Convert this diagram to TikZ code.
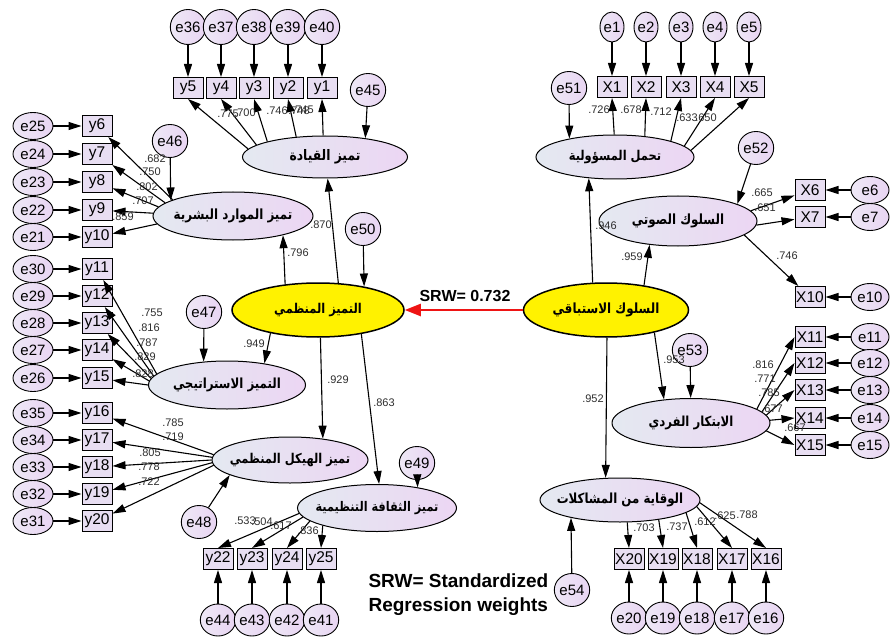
\documentclass[tikz,border=0pt]{standalone}
\usepackage{fontspec}
\setmainfont{Liberation Sans}
\newfontfamily\arfont[Script=Arabic, FakeStretch=0.85]{DejaVu Sans}
\TeXXeTstate=1
\usetikzlibrary{arrows.meta,shapes.geometric}
\definecolor{latleft}{RGB}{228,233,241}
\definecolor{latright}{RGB}{236,214,243}
\definecolor{errleft}{RGB}{238,232,246}
\definecolor{errright}{RGB}{232,212,242}
\definecolor{boxfill}{RGB}{232,222,242}
\definecolor{coefgray}{RGB}{45,45,45}
\definecolor{srwred}{RGB}{238,20,20}

\begin{document}
\begin{tikzpicture}[x=1pt, y=-1pt, >={Triangle[length=13pt,width=8pt]},
    arsize/.style={font=\arfont\bfseries\fontsize{#1}{#1}\selectfont},
    lat/.style={ellipse, draw, line width=1pt, left color=latleft, right color=latright,
        inner sep=0pt, inner xsep=-50pt},
    keylat/.style={ellipse, draw, line width=1.5pt, fill=yellow, minimum width=172pt, minimum height=54pt,
        inner sep=0pt, inner xsep=-50pt},
    err/.style={ellipse, draw, line width=0.9pt, left color=errleft, right color=errright,
        inner sep=0pt, font=\fontsize{15}{16}\selectfont},
    errv/.style={err, minimum width=28pt, minimum height=35pt},
    errs/.style={err, minimum width=24pt, minimum height=30pt},
    errh/.style={err, minimum width=40pt, minimum height=27pt},
    errc/.style={err, minimum width=32pt, minimum height=33pt},
    obs/.style={rectangle, draw, line width=1pt, fill=boxfill, minimum width=30pt, minimum height=21pt,
        inner sep=0pt, font=\fontsize{15.5}{16}\selectfont},
    coef/.style={inner sep=0pt, text=coefgray, font=\fontsize{11}{12}\selectfont},
    path/.style={->, line width=1.1pt}]

    \useasboundingbox (0,0) rectangle (891,639);

    % Latent variables, left model
    \node[keylat, arsize=13.5] (orgx) at (318,310) {\beginR التميز المنظمي\endR};
    \node[lat, arsize=14.5, minimum width=165pt, minimum height=42pt] (lead) at (325,157) {\beginR تميز القيادة\endR};
    \node[lat, arsize=14, minimum width=160pt, minimum height=48pt] (hr) at (233,216) {\beginR تميز الموارد البشرية\endR};
    \node[lat, arsize=13.9, minimum width=157pt, minimum height=48pt] (strat) at (227,385) {\beginR التميز الاستراتيجي\endR};
    \node[lat, arsize=13.5, minimum width=156pt, minimum height=46pt] (struct) at (290,460) {\beginR تميز الهيكل المنظمي\endR};
    \node[lat, arsize=13.3, minimum width=159pt, minimum height=47pt] (cult) at (377,508) {\beginR تميز الثقافة التنظيمية\endR};

    % Latent variables, right model
    \node[keylat, arsize=14, minimum width=165pt] (proact) at (606,310) {\beginR السلوك الاستباقي\endR};
    \node[lat, arsize=13.5, minimum width=158pt, minimum height=44pt] (resp) at (615,157) {\beginR تحمل المسؤولية\endR};
    \node[lat, arsize=14, minimum width=158pt, minimum height=50pt] (voice) at (678,221) {\beginR السلوك الصوتي\endR};
    \node[lat, arsize=13.8, minimum width=158pt, minimum height=49pt] (innov) at (691,423) {\beginR الابتكار الفردي\endR};
    \node[lat, arsize=13.9, minimum width=160pt, minimum height=44pt] (prev) at (620,500) {\beginR الوقاية من المشاكلات\endR};

    % Disturbances
    \node[errc] (e45) at (368,90) {e45};
    \node[errc] (e46) at (170,141) {e46};
    \node[errc] (e47) at (204,312) {e47};
    \node[errc] (e48) at (199,522) {e48};
    \node[errc] (e49) at (417,463) {e49};
    \node[errc] (e50) at (363,229) {e50};
    \node[errc] (e51) at (569,88) {e51};
    \node[errc] (e52) at (756,148) {e52};
    \node[errc] (e53) at (690,350) {e53};
    \node[errc] (e54) at (572,590) {e54};

    % Indicators in rows (top and bottom)
    \foreach \v/\e/\x in {y5/e36/188, y4/e37/221, y3/e38/254, y2/e39/288, y1/e40/322} {
        \node[obs] (\v) at (\x,88) {\v};
        \node[errv] (\e) at (\x,27) {\e};
        \draw[path] (\e) -- (\v);
    }
    \foreach \v/\e/\x in {X1/e1/612, X2/e2/646, X3/e3/681, X4/e4/715, X5/e5/749} {
        \node[obs] (\v) at (\x,87) {\v};
        \node[errs] (\e) at (\x,27) {\e};
        \draw[path] (\e) -- (\v);
    }
    \foreach \v/\e/\x in {y22/e44/218, y23/e43/252, y24/e42/287, y25/e41/321} {
        \node[obs] (\v) at (\x,559) {\v};
        \node[errv, minimum height=32pt] (\e) at (\x,620) {\e};
        \draw[path] (\e) -- (\v);
    }
    \foreach \v/\e/\x in {X20/e20/629, X19/e19/663, X18/e18/697, X17/e17/732, X16/e16/766} {
        \node[obs] (\v) at (\x,559) {\v};
        \node[errv, minimum height=32pt] (\e) at (\x,618) {\e};
        \draw[path] (\e) -- (\v);
    }

    % Indicators in columns (left and right)
    \foreach \v/\e/\y in {y6/e25/126, y7/e24/154, y8/e23/182, y9/e22/210, y10/e21/237,
                          y11/e30/269, y12/e29/296, y13/e28/323, y14/e27/350, y15/e26/378,
                          y16/e35/413, y17/e34/440, y18/e33/467, y19/e32/494, y20/e31/521} {
        \node[obs] (\v) at (97,\y) {\v};
        \node[errh] (\e) at (33,\y) {\e};
        \draw[path] (\e) -- (\v);
    }
    \foreach \v/\e/\y in {X6/e6/190, X7/e7/217, X10/e10/297,
                          X11/e11/337, X12/e12/363, X13/e13/390, X14/e14/418, X15/e15/445} {
        \node[obs] (\v) at (810,\y) {\v};
        \node[errh, minimum width=38pt] (\e) at (870,\y) {\e};
        \draw[path] (\e) -- (\v);
    }

    % Loadings
    \foreach \a/\v in {174/y5, 170/y4, 165/y3, 145/y2, 95/y1} \draw[path] (lead.\a) -- (\v.south);
    \foreach \a/\v in {165/y6, 169/y7, 173/y8, 178/y9, 186/y10} \draw[path] (hr.\a) -- (\v);
    \foreach \a/\v in {171/y11, 173/y12, 175/y13, 177/y14, 180/y15} \draw[path] (strat.\a) -- (\v);
    \foreach \a/\v in {176/y16, 178/y17, 180/y18, 182/y19, 184/y20} \draw[path] (struct.\a) -- (\v);
    \foreach \a/\v in {184/y22, 187/y23, 191/y24, 198/y25} \draw[path] (cult.\a) -- (\v.north);
    \foreach \a/\v in {92/X1, 35/X2, 16/X3, 9/X4, 5/X5} \draw[path] (resp.\a) -- (\v.south);
    \foreach \a/\v in {8/X6, -3/X7, -12/X10} \draw[path] (voice.\a) -- (\v);
    \foreach \a/\v in {12/X11, 9/X12, 6/X13, 2/X14, -6/X15} \draw[path] (innov.\a) -- (\v.west);
    \foreach \a/\v in {-72/X20, -27/X19, -11/X18, -5/X17, -2/X16} \draw[path] (prev.\a) -- (\v.north);

    % Second-order paths
    \draw[path] (orgx.53) -- (lead.-83);
    \draw[path] (orgx.142) -- (hr.-21);
    \draw[path] (orgx.206) -- (strat.30);
    \draw[path] (orgx.-85) -- (struct.33);
    \draw[path] (orgx.-29) -- (cult.85);
    \draw[path] (proact.116) -- (resp.219);
    \draw[path] (proact.33) -- (voice.220);
    \draw[path] (proact.-25) -- (innov.139);
    \draw[path] (proact.-88) -- (prev.123);

    % Disturbance arrows
    \draw[path] (e45) -- (lead.25);
    \draw[path] (e46) -- (hr.166);
    \draw[path] (e47) -- (strat.135);
    \draw[path] (e48) -- (struct.194);
    \draw[path] (e49) -- (cult.27);
    \draw[path] (e50) -- (orgx.27);
    \draw[path] (e51) -- (resp.158);
    \draw[path] (e52) -- (voice.16);
    \draw[path] (e53) -- (innov);
    \draw[path] (e54) -- (prev.200);

    % Structural path between the two constructs
    \draw[-{Triangle[length=16pt,width=12pt]}, srwred, line width=2.4pt] (proact) -- (orgx);
    \node[font=\bfseries\fontsize{16}{18}\selectfont] (srw) at (465,296) {SRW= 0.732};

    % Standardized weights
    \node[coef] (c5) at (228,114) {.775};
    \node[coef] (c4) at (245,113) {.700};
    \node[coef] (c3) at (277,111) {.746};
    \node[coef] (c2) at (299,111) {.748};
    \node[coef] (c1) at (303,110) {.745};
    \node[coef] (c6) at (155,159) {.682};
    \node[coef] (c7) at (150,172) {.750};
    \node[coef] (c8) at (147,187) {.802};
    \node[coef] (c9) at (143,201) {.707};
    \node[coef] (c10) at (123,217) {.859};
    \node[coef] (c11) at (152,313) {.755};
    \node[coef] (c12) at (149,328) {.816};
    \node[coef] (c13) at (147,343) {.787};
    \node[coef] (c14) at (145,357) {.829};
    \node[coef] (c15) at (143,374) {.828};
    \node[coef] (c16) at (173,423) {.785};
    \node[coef] (c17) at (173,437) {.719};
    \node[coef] (c18) at (150,453) {.805};
    \node[coef] (c19) at (149,467) {.778};
    \node[coef] (c20) at (149,482) {.722};
    \node[coef] (c22) at (245,521) {.533};
    \node[coef] (c23) at (262,522) {.504};
    \node[coef] (c24) at (281,526) {.617};
    \node[coef] (c25) at (308,531) {.836};
    \node[coef] (cl) at (321,225) {.870};
    \node[coef] (ch) at (298,253) {.796};
    \node[coef] (cs) at (254,344) {.949};
    \node[coef] (ct) at (338,380) {.929};
    \node[coef] (cc) at (384,403) {.863};
    \node[coef] (cX1) at (599,110) {.726};
    \node[coef] (cX2) at (631,110) {.678};
    \node[coef] (cX3) at (661,112) {.712};
    \node[coef] (cX4) at (687,118) {.633};
    \node[coef] (cX5) at (706,118) {.650};
    \node[coef] (cX6) at (762,193) {.665};
    \node[coef] (cX7) at (765,208) {.651};
    \node[coef] (cX10) at (787,256) {.746};
    \node[coef] (cX11) at (763,365) {.816};
    \node[coef] (cX12) at (765,379) {.771};
    \node[coef] (cX13) at (769,393) {.785};
    \node[coef] (cX14) at (772,409) {.677};
    \node[coef] (cX15) at (795,428) {.667};
    \node[coef] (cX20) at (644,528) {.703};
    \node[coef] (cX19) at (677,527) {.737};
    \node[coef] (cX18) at (705,522) {.612};
    \node[coef] (cX17) at (725,516) {.625};
    \node[coef] (cX16) at (747,515) {.788};
    \node[coef] (cr) at (606,226) {.946};
    \node[coef] (cv) at (632,257) {.959};
    \node[coef] (ci) at (674,360) {.953};
    \node[coef] (cp) at (593,399) {.952};

    % Legend
    \node[anchor=west, align=left, font=\bfseries\fontsize{19}{24}\selectfont] (note) at (365,595)
        {SRW= Standardized\\Regression weights};

\end{tikzpicture}
\end{document}
